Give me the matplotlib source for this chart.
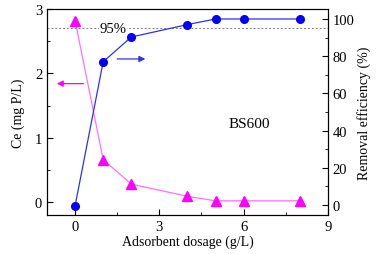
import matplotlib.pyplot as plt
from matplotlib.ticker import MultipleLocator

plt.rcParams['font.family'] = ['Liberation Serif', 'DejaVu Serif']
plt.rcParams['font.size'] = 10

# dosis adsorben (g/L)
dosage = [0, 1, 2, 4, 5, 6, 8]
# konsentrasi sisa Ce (mg P/L)
ce = [2.82, 0.66, 0.28, 0.09, 0.02, 0.02, 0.02]
# efisiensi penyisihan (%)
removal = [-0.5, 77, 90.3, 97, 100, 100, 100]

fig = plt.figure(figsize=(3.76, 2.55), dpi=100)
ax = fig.add_axes([0.125, 0.153, 0.747, 0.808])
ax2 = ax.twinx()

ax.plot(dosage, ce, color='#ff70ff', lw=0.9, marker='^', ms=6.5,
        mfc='#ff00ff', mec='#ff00ff', zorder=3)
ax2.plot(dosage, removal, color='#3030ee', lw=0.9, marker='o', ms=5.5,
         mfc='#0000ff', mec='#0000ff', zorder=3)

ax2.axhline(95, color='gray', ls=(0, (2, 2)), lw=0.7)
ax2.text(1.35, 95, '95%', ha='center', va='center', fontsize=10.5,
         bbox=dict(fc='white', ec='none', pad=0.5))

ax.set_xlim(-1, 9)
ax.set_ylim(-0.2, 3.0)
ax2.set_ylim(-5.4, 105.4)
ax.xaxis.set_major_locator(MultipleLocator(3))
ax.xaxis.set_minor_locator(MultipleLocator(1.5))
ax.yaxis.set_major_locator(MultipleLocator(1))
ax.yaxis.set_minor_locator(MultipleLocator(0.5))
ax2.yaxis.set_major_locator(MultipleLocator(20))
ax2.yaxis.set_minor_locator(MultipleLocator(10))

ax.tick_params(which='both', direction='in', top=False, labelsize=10.5)
ax.tick_params(which='major', length=4)
ax.tick_params(which='minor', length=2)
ax2.tick_params(which='both', direction='in', labelsize=10.5)
ax2.tick_params(which='major', length=4)
ax2.tick_params(which='minor', length=2)

ax.set_xlabel('Adsorbent dosage (g/L)', labelpad=1)
ax.set_ylabel('Ce (mg P/L)', labelpad=7)
ax2.set_ylabel('Removal efficiency (%)', labelpad=2)

ax.annotate('', xy=(-0.75, 1.84), xytext=(0.4, 1.84),
            arrowprops=dict(arrowstyle='-|>', color='#ff00ff', lw=0.9,
                            mutation_scale=9))
ax2.annotate('', xy=(2.6, 78.5), xytext=(1.4, 78.5),
             arrowprops=dict(arrowstyle='-|>', color='#3030ee', lw=0.9,
                             mutation_scale=9))
ax.text(6.2, 1.22, 'BS600', ha='center', va='center', fontsize=11)

fig.savefig('out.png', dpi=100)
